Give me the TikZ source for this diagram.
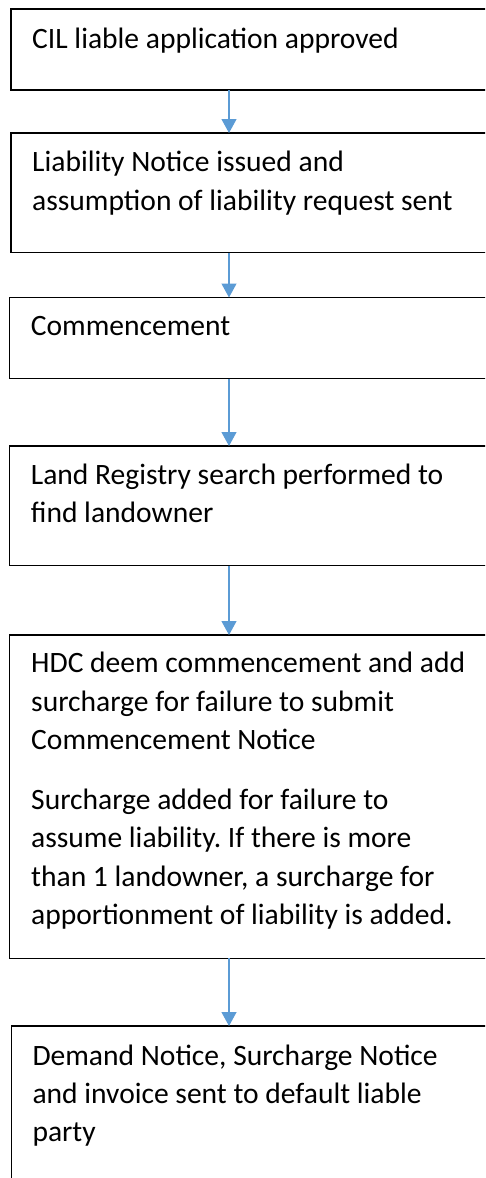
\documentclass[tikz,border=0pt]{standalone}
\usepackage{fontspec}
\setmainfont{Carlito}
\usetikzlibrary{arrows.meta}
\definecolor{arrowblue}{HTML}{5B9BD5}
\frenchspacing
\newcommand{\boxlines}[1]{\begin{tabular}[t]{@{}l@{}}#1\end{tabular}}
\begin{document}
\begin{tikzpicture}[x=1pt,y=-1pt,
  flowbox/.style={draw=black, line width=1.5pt, rectangle, anchor=north west, inner sep=0pt, outer sep=0pt},
  flowtext/.style={anchor=base west, inner sep=0pt, font=\fontsize{29.55}{38.3}\selectfont},
  flowarrow/.style={draw=arrowblue, line width=1.2pt, -{Triangle[width=15pt,length=14pt]}, arrowblue}]
\useasboundingbox (0,0) rectangle (485,1178);
\clip (0,0) rectangle (485,1178);
\fill[white] (0,0) rectangle (485,1178);
% boxes (their right sides and the last box's bottom lie outside the picture)
\node[flowbox, minimum width=589pt, minimum height=81pt] (b1) at (11,9) {};
\node[flowbox, minimum width=589pt, minimum height=119.7pt] (b2) at (11,133) {};
\node[flowbox, minimum width=590.3pt, minimum height=81.2pt] (b3) at (9.7,297.5) {};
\node[flowbox, minimum width=590.3pt, minimum height=119.7pt] (b4) at (9.7,446) {};
\node[flowbox, minimum width=590.3pt, minimum height=323.3pt] (b5) at (9.7,635) {};
\node[flowbox, minimum width=588.3pt, minimum height=250pt] (b6) at (11.7,1026) {};
% texts
\node[flowtext] (t1) at (32,48) {\boxlines{CIL liable application approved}};
\node[flowtext] (t2) at (32,171.7) {\boxlines{Liability Notice issued and\\assumption of liability request sent}};
\node[flowtext] (t3) at (30.7,335) {\boxlines{Commencement}};
\node[flowtext] (t4) at (30.7,484.3) {\boxlines{Land Registry search performed to\\find landowner}};
\node[flowtext] (t5) at (31,672.7) {\boxlines{HDC deem commencement and add\\surcharge for failure to submit\\Commencement Notice\\[22pt]Surcharge added for failure to\\assume liability. If there is more\\than 1 landowner, a surcharge for\\apportionment of liability is added.}};
\node[flowtext] (t6) at (32.3,1065) {\boxlines{Demand Notice, Surcharge Notice\\and invoice sent to default liable\\party}};
% connectors
\coordinate (ax) at (229,0);
\draw[flowarrow] (b1.south -| ax) -- (b2.north -| ax);
\draw[flowarrow] (b2.south -| ax) -- (b3.north -| ax);
\draw[flowarrow] (b3.south -| ax) -- (b4.north -| ax);
\draw[flowarrow] (b4.south -| ax) -- (b5.north -| ax);
\draw[flowarrow] (b5.south -| ax) -- (b6.north -| ax);
\end{tikzpicture}
\end{document}
